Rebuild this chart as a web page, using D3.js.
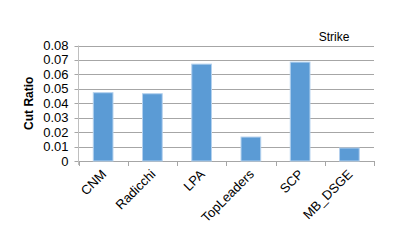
<!DOCTYPE html>
<html>
<head>
<meta charset="utf-8">
<script src="https://cdn.jsdelivr.net/npm/d3@7"></script>
<style>
  body { margin: 0; background: #fff; }
  svg { display: block; font-family: "Liberation Sans", Arial, sans-serif; }
</style>
</head>
<body>
<div id="chart"></div>
<script>
const methods = ["CNM", "Radicchi", "LPA", "TopLeaders", "SCP", "MB_DSGE"];
const cutRatio = [0.0473, 0.0466, 0.0671, 0.0166, 0.0685, 0.0090];
const yTicks = [0, 0.01, 0.02, 0.03, 0.04, 0.05, 0.06, 0.07, 0.08];

const width = 416,
    height = 241,
    margin = ({top: 45.5, right: 42, bottom: 80, left: 78.5});

let svg = d3.select("#chart")
    .append("svg")
    .attr("width", width)
    .attr("height", height);

let x = d3.scaleBand()
    .domain(methods)
    .range([margin.left, width - margin.right])
    .paddingInner(0.6)
    .paddingOuter(0.3);

let y = d3.scaleLinear()
    .domain([0, 0.08])
    .range([height - margin.bottom, margin.top]);

// gridlines
svg.append("g")
    .selectAll("line")
    .data(yTicks)
    .join("line")
    .attr("x1", margin.left - 4)
    .attr("x2", width - margin.right)
    .attr("y1", d => Math.round(y(d)) + 0.5)
    .attr("y2", d => Math.round(y(d)) + 0.5)
    .attr("stroke", "#a6a6a6")
    .attr("stroke-width", 1);

// y axis line
svg.append("line")
    .attr("x1", margin.left).attr("x2", margin.left)
    .attr("y1", y(0.08)).attr("y2", y(0) + 4)
    .attr("stroke", "#bfbfbf");

// x axis ticks
const edges = methods.map(m => x(m) - x.step() * x.paddingInner() / 2);
edges[0] = margin.left;
edges.push(width - margin.right);
svg.append("g")
    .selectAll("line")
    .data(edges)
    .join("line")
    .attr("x1", d => Math.round(d) + 0.5)
    .attr("x2", d => Math.round(d) + 0.5)
    .attr("y1", y(0))
    .attr("y2", y(0) + 5)
    .attr("stroke", "#a6a6a6");

// y tick labels
svg.append("g")
    .selectAll("text")
    .data(yTicks)
    .join("text")
    .attr("x", margin.left - 10)
    .attr("y", d => y(d))
    .attr("dy", "0.35em")
    .attr("text-anchor", "end")
    .attr("font-size", 13)
    .attr("fill", "#000")
    .text(d => d === 0 ? "0" : d.toFixed(2));

// bars
svg.append("g")
    .selectAll("rect")
    .data(methods)
    .join("rect")
    .attr("x", d => x(d))
    .attr("width", x.bandwidth())
    .attr("y", (d, i) => y(cutRatio[i]))
    .attr("height", (d, i) => y(0) - y(cutRatio[i]))
    .attr("fill", "#5b9bd5")
    .attr("stroke", "#b4d1ee")
    .attr("stroke-width", 1);

// x labels
svg.append("g")
    .selectAll("text")
    .data(methods)
    .join("text")
    .attr("transform", d => `translate(${x(d) + x.bandwidth() / 2 + 4},${y(0) + 14}) rotate(-45)`)
    .attr("text-anchor", "end")
    .attr("font-size", 13)
    .attr("fill", "#000")
    .text(d => d);

// y title
svg.append("text")
    .attr("transform", `translate(33,${(y(0) + y(0.08)) / 2}) rotate(-90)`)
    .attr("text-anchor", "middle")
    .attr("font-size", 12)
    .attr("font-weight", "bold")
    .text("Cut Ratio");

// chart title
svg.append("text")
    .attr("x", 334)
    .attr("y", 41)
    .attr("text-anchor", "middle")
    .attr("font-size", 12)
    .text("Strike");
</script>
</body>
</html>
